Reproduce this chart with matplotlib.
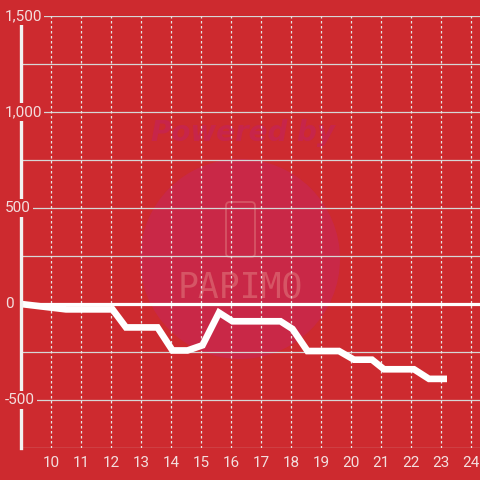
import matplotlib.pyplot as plt
from matplotlib.patches import Circle, FancyBboxPatch
from matplotlib.transforms import blended_transform_factory

# data
hours = [9.0, 10.5, 12.05, 12.5, 13.55, 14.05, 14.55, 15.05, 15.6, 16.05,
         17.65, 18.05, 18.55, 19.6, 20.1, 20.7, 21.1, 22.1, 22.6, 23.2]
values = [0, -28, -28, -122, -122, -242, -242, -215, -45, -90,
          -90, -130, -245, -245, -290, -290, -340, -340, -390, -390]
x_ticks = list(range(10, 25))
y_ticks = [-500, 0, 500, 1000, 1500]
y_labels = ['-500', '0', '500', '1,000', '1,500']
y_grid = [-750, -500, -250, 250, 500, 750, 1000, 1250, 1500]

# colours
bg_color = '#cd2a2f'
wm_color = '#c92847'
grid_color = '#d6d6d6'
text_color = '#f3dede'
line_color = '#ffffff'

plt.rcParams['font.family'] = ['Roboto', 'DejaVu Sans']

W = H = 480
fig = plt.figure(figsize=(4.8, 4.8), dpi=100, facecolor=bg_color)
ax = fig.add_axes([21 / W, (H - 448) / H, (W - 21) / W, (448 - 16) / H])
ax.set_facecolor('none')

# watermark behind everything
fig.add_artist(Circle((240 / W, (H - 259) / H), 100 / W, transform=fig.transFigure,
                      facecolor=wm_color, edgecolor='none', zorder=-2))
fig.text(243 / W, (H - 133) / H, 'Powered by', ha='center', va='center',
         fontsize=20, fontweight='bold', style='italic', color='#c7254a', zorder=-1,
         family=['DejaVu Sans'])
fig.add_artist(FancyBboxPatch((226 / W, (H - 257) / H), 29 / W, 55 / H,
                              boxstyle='round,pad=0,rounding_size=0.008',
                              transform=fig.transFigure, facecolor='none',
                              edgecolor='#d65565', lw=1.3, zorder=-1))
fig.text(240 / W, (H - 288) / H, 'PAPIMO', ha='center', va='center',
         fontsize=25, color='#d65565', zorder=-1,
         family=['DejaVu Sans Mono', 'DejaVu Sans'])

ax.set_xlim(9, 24.3)
ax.set_ylim(-750, 1500)

# grid
for g in y_grid:
    ax.axhline(g, color=grid_color, lw=0.9, zorder=1)
for t in x_ticks:
    ax.axvline(t, color='#e6e6e6', lw=0.9, ls=(0, (2, 2)), zorder=1)
ax.axhline(0, color=line_color, lw=2.3, zorder=2)

ax.plot(hours, values, color=line_color, lw=4.8, solid_joinstyle='miter',
        solid_capstyle='butt', zorder=3)

for s in ['top', 'right', 'bottom']:
    ax.spines[s].set_visible(False)
ax.spines['left'].set_color('#f2f2f2')
ax.spines['left'].set_linewidth(2.4)
ax.spines['left'].set_zorder(4)

ax.set_xticks(x_ticks)
ax.set_xticklabels([str(t) for t in x_ticks])
ax.set_yticks([])
ax.tick_params(axis='x', length=0, pad=6, labelsize=11, labelcolor=text_color)

# y labels sit over the axis line with a background box
label_trans = blended_transform_factory(fig.transFigure, ax.transData)
for v, lab in zip(y_ticks, y_labels):
    ax.text(5 / W, v, lab, transform=label_trans,
            ha='left', va='center', fontsize=11, color=text_color, zorder=10,
            clip_on=False,
            bbox=dict(boxstyle='square,pad=0.12', facecolor=bg_color, edgecolor='none'))

fig.savefig('out.png', dpi=100, facecolor=bg_color)
